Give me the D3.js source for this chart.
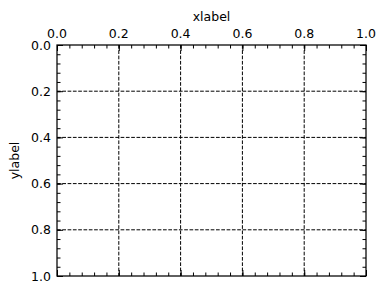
<!DOCTYPE html>
<html>
<head>
<meta charset="utf-8">
<script src="https://cdn.jsdelivr.net/npm/d3@7"></script>
<style>
html,body{margin:0;padding:0;background:#fff;}
svg{display:block;font-family:"DejaVu Sans",sans-serif;}
</style>
</head>
<body>
<svg id="chart" width="387" height="294"></svg>
<script>
const xDomain = [0, 1];
const yDomain = [0, 1];
const xTicks = [0, 0.2, 0.4, 0.6, 0.8, 1.0];
const yTicks = [0, 0.2, 0.4, 0.6, 0.8, 1.0];
const xMinor = d3.range(0, 1.0001, 0.04);
const yMinor = d3.range(0, 1.0001, 0.04);
const xLabel = "xlabel";
const yLabel = "ylabel";

const W = 387, H = 294;
const m = {left: 57, top: 45, right: 21, bottom: 18};
const iw = W - m.left - m.right, ih = H - m.top - m.bottom;

const svg = d3.select("#chart");
const g = svg.append("g").attr("transform", `translate(${m.left},${m.top})`);

const x = d3.scaleLinear().domain(xDomain).range([0, iw]);
const y = d3.scaleLinear().domain(yDomain).range([0, ih]);

// grid
g.append("g").selectAll("line").data(xTicks.slice(1, -1)).join("line")
  .attr("x1", d => x(d)).attr("x2", d => x(d)).attr("y1", 0).attr("y2", ih)
  .attr("stroke", "#000").attr("stroke-width", 1).attr("stroke-dasharray", "3.7,1.6");
g.append("g").selectAll("line").data(yTicks.slice(1, -1)).join("line")
  .attr("y1", d => y(d)).attr("y2", d => y(d)).attr("x1", 0).attr("x2", iw)
  .attr("stroke", "#000").attr("stroke-width", 1).attr("stroke-dasharray", "3.7,1.6");

// inward ticks on all four sides via d3 axes
const fmt = d3.format(".1f");
function addAxis(axisFn, scale, vals, size, transform, labels) {
  const a = axisFn(scale).tickValues(vals).tickSizeInner(size).tickSizeOuter(0)
    .tickFormat(labels ? fmt : () => "");
  const ag = g.append("g").attr("transform", transform).call(a);
  ag.select(".domain").remove();
  ag.selectAll(".tick line").attr("stroke", "#000").attr("stroke-width", 1);
  return ag;
}
// minor
addAxis(d3.axisBottom, x, xMinor, 3.5, `translate(0,0)`, false);
addAxis(d3.axisTop, x, xMinor, 3.5, `translate(0,${ih})`, false);
addAxis(d3.axisRight, y, yMinor, 3.5, `translate(0,0)`, false);
addAxis(d3.axisLeft, y, yMinor, 3.5, `translate(${iw},0)`, false);
// major
addAxis(d3.axisBottom, x, xTicks, 6, `translate(0,0)`, false);
addAxis(d3.axisTop, x, xTicks, 6, `translate(0,${ih})`, false);
addAxis(d3.axisRight, y, yTicks, 6, `translate(0,0)`, false);
addAxis(d3.axisLeft, y, yTicks, 6, `translate(${iw},0)`, false);

// tick labels
g.append("g").selectAll("text").data(xTicks).join("text")
  .attr("x", d => x(d)).attr("y", -7)
  .attr("text-anchor", "middle").attr("font-size", 12.5).attr("fill", "#000")
  .text(fmt);
g.append("g").selectAll("text").data(yTicks).join("text")
  .attr("x", -6).attr("y", d => y(d)).attr("dy", "0.36em")
  .attr("text-anchor", "end").attr("font-size", 12.5).attr("fill", "#000")
  .text(fmt);

// frame
g.append("rect").attr("x", 0).attr("y", 0).attr("width", iw).attr("height", ih)
  .attr("fill", "none").attr("stroke", "#000").attr("stroke-width", 1.25);

// axis labels
svg.append("text").attr("x", m.left + iw / 2).attr("y", 21)
  .attr("text-anchor", "middle").attr("font-size", 12.5).attr("fill", "#000").text(xLabel);
svg.append("text").attr("transform", `translate(19,${m.top + ih / 2}) rotate(-90)`)
  .attr("text-anchor", "middle").attr("font-size", 12.5).attr("fill", "#000").text(yLabel);
</script>
</body>
</html>
